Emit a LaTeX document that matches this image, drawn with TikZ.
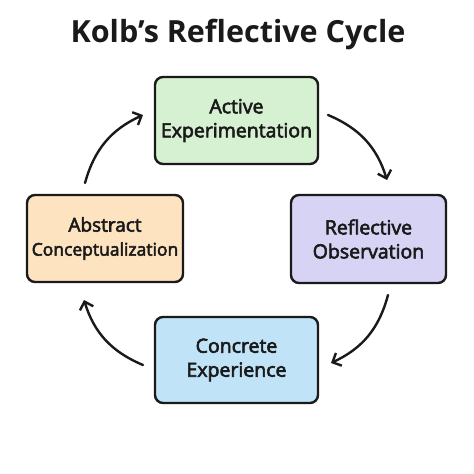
\documentclass[tikz,border=0pt]{standalone}
\usepackage{fontspec}
\setmainfont{Open Sans}
\newfontfamily\boxfont{Open Sans}[FakeBold=3]
\usetikzlibrary{arrows.meta}
\definecolor{ink}{HTML}{1A1A1A}
\definecolor{cgreen}{RGB}{214,240,210}
\definecolor{cpeach}{RGB}{253,227,192}
\definecolor{clav}{RGB}{215,211,245}
\definecolor{cblue}{RGB}{192,227,248}
\tikzset{
  stage/.style={draw=ink, line width=2.4pt, rounded corners=8pt, inner sep=0pt,
    align=center, text=ink, font=\boxfont\fontsize{19.5}{24}\selectfont},
  cyc/.style={draw=ink, line width=2.4pt, line cap=round,
    -{Straight Barb[length=7pt,width=14pt,line width=2.4pt]}},
}
\begin{document}
\begin{tikzpicture}[x=1pt,y=1pt]
\useasboundingbox[fill=white] (0,0) rectangle (474,-474);
\node[text=ink, font=\fontsize{30.5}{34}\selectfont\bfseries] (title) at (238,-34) {Kolb’s Reflective Cycle};
\node[stage, fill=cgreen, minimum width=163pt, minimum height=87pt] (ae) at (236.5,-120.5) {Active\\Experimentation};
\node[stage, fill=cpeach, minimum width=156pt, minimum height=87pt] (ac) at (105,-238.5) {\fontsize{19}{24}\selectfont Abstract\\\fontsize{17.5}{24}\selectfont Conceptualization};
\node[stage, fill=clav, minimum width=155pt, minimum height=88pt] (ro) at (368.5,-239) {Reflective\\Observation};
\node[stage, fill=cblue, minimum width=163pt, minimum height=86pt] (ce) at (236.5,-360) {Concrete\\Experience};
\coordinate (a1s) at (328,-115);
\coordinate (a1e) at (387,-180);
\coordinate (a2s) at (388,-295);
\coordinate (a2e) at (331,-363);
\coordinate (a3s) at (143,-365);
\coordinate (a3e) at (84,-300);
\coordinate (a4s) at (85,-183);
\coordinate (a4e) at (143,-115);
\draw[cyc] (a1s) to[bend left=25] (a1e);
\draw[cyc] (a2s) to[bend left=25] (a2e);
\draw[cyc] (a3s) to[bend left=25] (a3e);
\draw[cyc] (a4s) to[bend left=25] (a4e);
\end{tikzpicture}
\end{document}
